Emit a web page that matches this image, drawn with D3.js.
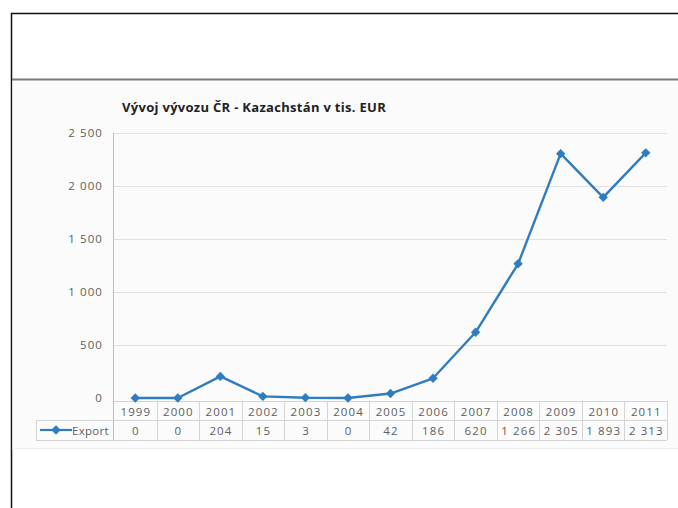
<!DOCTYPE html>
<html>
<head>
<meta charset="utf-8">
<script src="https://cdn.jsdelivr.net/npm/d3@7"></script>
<style>
  html, body { margin: 0; padding: 0; background: #fff; }
  svg { display: block; }
</style>
</head>
<body>
<svg id="chart" width="678" height="508"></svg>
<script>
// Export of the Czech Republic to Kazakhstan, thousands of EUR
const years = ["1999","2000","2001","2002","2003","2004","2005","2006","2007","2008","2009","2010","2011"];
const exportValues = [0, 0, 204, 15, 3, 0, 42, 186, 620, 1266, 2305, 1893, 2313];
const exportLabels = ["0","0","204","15","3","0","42","186","620","1 266","2 305","1 893","2 313"];
const yTicks = [0, 500, 1000, 1500, 2000, 2500];
const yTickLabels = ["0","500","1 000","1 500","2 000","2 500"];
const seriesName = "Export";
const title = "Vývoj vývozu ČR - Kazachstán v tis. EUR";

const svg = d3.select("#chart");
const font = "'Open Sans', 'DejaVu Sans', sans-serif";
const blue = "#2f7dc0";
const textGrey = "#5e5e5e";
const labelSize = 11.5;
const labelSpacing = 1.1;

// page frame
svg.append("line").attr("x1", 11).attr("x2", 678).attr("y1", 13.5).attr("y2", 13.5)
  .attr("stroke", "#111").attr("stroke-width", 1.5);
svg.append("line").attr("x1", 11.5).attr("x2", 11.5).attr("y1", 13).attr("y2", 508)
  .attr("stroke", "#111").attr("stroke-width", 1.5);

// chart panel
svg.append("rect").attr("x", 12.5).attr("y", 80).attr("width", 666).attr("height", 368)
  .attr("fill", "#fbfbfb");
svg.append("line").attr("x1", 12).attr("x2", 678).attr("y1", 79.5).attr("y2", 79.5)
  .attr("stroke", "#7a7a7a").attr("stroke-width", 2);
svg.append("line").attr("x1", 12).attr("x2", 678).attr("y1", 448.5).attr("y2", 448.5)
  .attr("stroke", "#ececec").attr("stroke-width", 1);

const plot = { left: 114, right: 667, top: 133, bottom: 398 };

const x = d3.scaleBand().domain(years).range([plot.left, plot.right]).padding(0);
const y = d3.scaleLinear().domain([0, 2500]).range([plot.bottom, plot.top]);
const cx = i => x(years[i]) + x.bandwidth() / 2;

// title
svg.append("text").attr("x", 122).attr("y", 112)
  .attr("font-family", font).attr("font-weight", "bold").attr("font-size", 13)
  .attr("letter-spacing", 0.3).attr("fill", "#222").text(title);

// gridlines
svg.append("g").selectAll("line").data(yTicks.filter(d => d > 0)).join("line")
  .attr("x1", plot.left).attr("x2", plot.right)
  .attr("y1", d => Math.round(y(d)) + 0.5).attr("y2", d => Math.round(y(d)) + 0.5)
  .attr("stroke", "#e0e0e0").attr("stroke-width", 1);

// y axis
const yAxis = svg.append("g").attr("transform", `translate(${plot.left},0)`)
  .call(d3.axisLeft(y).tickValues(yTicks).tickSize(0).tickPadding(11)
    .tickFormat((d, i) => yTickLabels[i]));
yAxis.select(".domain").remove();
yAxis.selectAll("text").attr("font-family", font).attr("font-size", labelSize)
  .attr("letter-spacing", labelSpacing).attr("fill", textGrey);
svg.append("line").attr("x1", plot.left - 0.5).attr("x2", plot.left - 0.5)
  .attr("y1", plot.top).attr("y2", 440).attr("stroke", "#bdbdbd");

// data table
const tbl = { row1: 401, row2: 420, bottom: 440, keyLeft: 36 };
const tg = svg.append("g").attr("stroke", "#d4d4d4").attr("stroke-width", 1);
tg.append("line").attr("x1", plot.left).attr("x2", plot.right).attr("y1", tbl.row1 + 0.5).attr("y2", tbl.row1 + 0.5);
tg.append("line").attr("x1", tbl.keyLeft).attr("x2", plot.right).attr("y1", tbl.row2 + 0.5).attr("y2", tbl.row2 + 0.5);
tg.append("line").attr("x1", tbl.keyLeft).attr("x2", plot.right).attr("y1", tbl.bottom + 0.5).attr("y2", tbl.bottom + 0.5);
tg.append("line").attr("x1", tbl.keyLeft + 0.5).attr("x2", tbl.keyLeft + 0.5).attr("y1", tbl.row2).attr("y2", tbl.bottom);
tg.selectAll("line.col").data(years).join("line").attr("class", "col")
  .attr("x1", d => Math.round(x(d) + x.bandwidth()) + 0.5)
  .attr("x2", d => Math.round(x(d) + x.bandwidth()) + 0.5)
  .attr("y1", tbl.row1).attr("y2", tbl.bottom);

const cellText = sel => sel.attr("text-anchor", "middle").attr("font-family", font)
  .attr("font-size", labelSize).attr("letter-spacing", labelSpacing).attr("fill", textGrey);

svg.append("g").selectAll("text").data(years).join("text")
  .attr("x", (d, i) => cx(i) + labelSpacing / 2).attr("y", 415.5)
  .call(cellText).text(d => d);

svg.append("g").selectAll("text").data(exportLabels).join("text")
  .attr("x", (d, i) => cx(i) + labelSpacing / 2).attr("y", 435)
  .call(cellText).text(d => d);

// diamond marker: a square turned by 45 degrees
const marker = d3.symbol().type(d3.symbolSquare).size(44);

// legend key in the table
svg.append("line").attr("x1", 40).attr("x2", 72).attr("y1", 430).attr("y2", 430)
  .attr("stroke", blue).attr("stroke-width", 2.2);
svg.append("path").attr("d", marker).attr("transform", "translate(56,430) rotate(45)").attr("fill", blue);
svg.append("text").attr("x", 72).attr("y", 435).attr("font-family", font).attr("font-size", labelSize)
  .attr("letter-spacing", 0.3).attr("fill", textGrey).text(seriesName);

// series line and markers
const line = d3.line().x((d, i) => cx(i)).y(d => y(d));
svg.append("path").datum(exportValues).attr("d", line)
  .attr("fill", "none").attr("stroke", blue).attr("stroke-width", 2.4)
  .attr("stroke-linejoin", "round");
svg.append("g").selectAll("path").data(exportValues).join("path")
  .attr("d", marker)
  .attr("transform", (d, i) => `translate(${cx(i)},${y(d)}) rotate(45)`)
  .attr("fill", blue);
</script>
</body>
</html>
